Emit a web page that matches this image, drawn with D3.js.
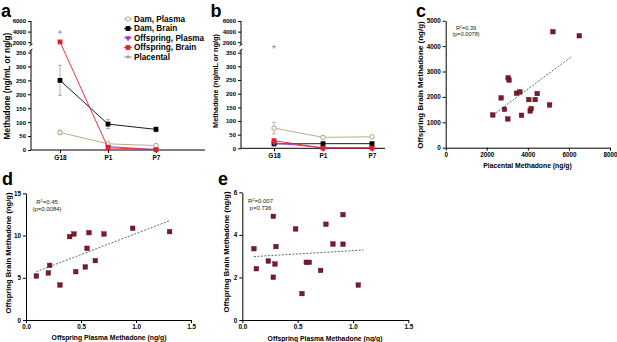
<!DOCTYPE html>
<html>
<head>
<meta charset="utf-8">
<script src="https://d3js.org/d3.v7.min.js"></script>
<style>
body {margin: 0; background: #fff;}
svg text {font-family: "Liberation Sans", Arial, sans-serif;}
</style>
</head>
<body>
<svg id="fig" width="617" height="342"></svg>
<script>
// panels a and b: timepoints and series
var timepoints = ["G18", "P1", "P7"];
var seriesNames = ["Dam, Plasma", "Dam, Brain", "Offspring, Plasma", "Offspring, Brain", "Placental"];
var lowTicks = [0, 50, 100, 150, 200, 250, 300, 350];
var highTicks = [2000, 4000, 6000];

var damPlasmaA = [63, 22, 16];
var damPlasmaErrA = [8, 6, 4];
var damBrainA = [250, 93, 74];
var damBrainErrA = [54, 16, 9];
var offPlasmaA = [null, 12, 2];
var offBrainA = [2050, 8, 1];
var placentalA = [3900, null, null];

var damPlasmaB = [74, 40, 42];
var damPlasmaErrB = [21, 3, 3];
var damBrainB = [16, 17, 17];
var damBrainErrB = [3, 2, 2];
var offPlasmaB = [20, 2, 2];
var offBrainB = [28, 1, 1];
var placentalB = [1150, null, null];

// panel c
var placentalC = [2293, 2699, 2862, 3041, 3089, 3024, 3447, 3610, 3691, 4049, 4114, 4163, 4358, 4455, 5057, 5220, 6504];
var brainC = [1289, 1961, 1513, 2750, 2658, 1132, 2145, 2197, 1276, 1895, 1447, 1539, 1895, 2132, 1684, 4566, 4408];
var fitCx = [2300, 6150];
var fitCy = [1290, 3600];

// panel d
var plasmaD = [0.094, 0.203, 0.215, 0.309, 0.397, 0.436, 0.452, 0.539, 0.555, 0.573, 0.630, 0.709, 0.970, 1.306];
var brainD = [5.21, 5.57, 6.47, 4.14, 9.87, 10.18, 5.72, 6.28, 8.49, 10.34, 7.03, 10.18, 10.86, 10.46];
var fitDx = [0.094, 1.306];
var fitDy = [5.72, 11.76];

// panel e
var plasmaE = [0.105, 0.127, 0.280, 0.304, 0.235, 0.295, 0.280, 0.482, 0.539, 0.578, 0.605, 0.708, 0.756, 0.819, 0.910, 0.910, 1.048];
var brainE = [3.35, 2.41, 4.87, 3.45, 2.77, 2.63, 2.01, 4.28, 1.24, 2.71, 2.71, 2.33, 4.50, 3.57, 4.95, 3.56, 1.64];
var fitEx = [0.105, 1.095];
var fitEy = [2.98, 3.29];

var svg = d3.select("#fig");
var tan = "#b9a27c", purple = "#9b37c6", red = "#ec1c24", grey = "#8c8c8c", maroon = "#7b1a2b";
var styles = [
	{color: tan, shape: "circle", fill: "#fff"},
	{color: "#000", shape: "square", fill: "#000"},
	{color: purple, shape: "triangle", fill: purple},
	{color: red, shape: "square", fill: red},
	{color: grey, shape: "plus", fill: grey}
];

function marker(g, st, cx, cy) {
	if (st.shape == "circle") {
		g.append("circle").attr("cx", cx).attr("cy", cy).attr("r", 2.2)
			.attr("fill", st.fill).attr("stroke", st.color).attr("stroke-width", 1);
	} else if (st.shape == "square") {
		g.append("rect").attr("x", cx - 2.4).attr("y", cy - 2.4).attr("width", 4.8).attr("height", 4.8)
			.attr("fill", st.fill);
	} else if (st.shape == "triangle") {
		g.append("path").attr("d", d3.symbol(d3.symbolTriangle, 16)())
			.attr("transform", "translate(" + cx + "," + cy + ") rotate(180)")
			.attr("fill", st.fill);
	} else {
		g.append("path").attr("d", "M" + (cx - 2) + "," + cy + "h4M" + cx + "," + (cy - 2) + "v4")
			.attr("stroke", st.color).attr("stroke-width", 0.9);
	}
}

function styleAxis(g, size) {
	g.attr("font-size", null).attr("font-family", null);
	g.selectAll("text").attr("font-size", size).attr("font-weight", "bold").attr("fill", "#000");
	g.selectAll("line").attr("stroke", "#000");
}

function panelLetter(txt, x, y) {
	svg.append("text").attr("x", x).attr("y", y).text(txt)
		.attr("font-size", 18).attr("font-weight", "bold");
}

function timePanel(cfg) {
	var g = svg.append("g");
	var x = d3.scalePoint().domain(timepoints).range(cfg.xr);
	var yLow = d3.scaleLinear().domain([0, 350]).range([cfg.y0, cfg.y350]);
	var yHigh = d3.scaleLinear().domain([1000, 6000]).range([cfg.y1000, cfg.y6000]);
	var y = function(v) { return v > 350 ? yHigh(v) : yLow(v); };

	// x axis
	var gx = g.append("g").attr("transform", "translate(0," + cfg.y0 + ")")
		.call(d3.axisBottom(x).tickSize(3).tickPadding(2));
	gx.select(".domain").remove();
	styleAxis(gx, 6.5);
	g.append("line").attr("x1", cfg.axisX).attr("x2", cfg.xEnd)
		.attr("y1", cfg.y0).attr("y2", cfg.y0).attr("stroke", "#000");

	// broken y axis
	var gl = g.append("g").attr("transform", "translate(" + cfg.axisX + ",0)")
		.call(d3.axisLeft(yLow).tickValues(lowTicks).tickFormat(d3.format("d")).tickSize(3).tickPadding(2));
	var gh = g.append("g").attr("transform", "translate(" + cfg.axisX + ",0)")
		.call(d3.axisLeft(yHigh).tickValues(highTicks).tickFormat(d3.format("d")).tickSize(3).tickPadding(2));
	gl.select(".domain").remove();
	gh.select(".domain").remove();
	styleAxis(gl, 6);
	styleAxis(gh, 6);
	g.append("line").attr("x1", cfg.axisX).attr("x2", cfg.axisX)
		.attr("y1", yHigh(6000)).attr("y2", cfg.breakTop).attr("stroke", "#000");
	g.append("line").attr("x1", cfg.axisX).attr("x2", cfg.axisX)
		.attr("y1", cfg.breakBot).attr("y2", cfg.y0).attr("stroke", "#000");
	[cfg.breakTop, cfg.breakBot].forEach(function(by) {
		g.append("line").attr("x1", cfg.axisX - 1.5).attr("x2", cfg.axisX + 1.5)
			.attr("y1", by + 1).attr("y2", by - 1).attr("stroke", "#000").attr("stroke-width", 0.9);
	});

	g.append("text").attr("transform", "translate(" + cfg.titleX + "," + cfg.titleY + ") rotate(-90)")
		.attr("text-anchor", "middle").attr("font-size", cfg.titleSize).attr("font-weight", "bold")
		.text("Methadone (ng/mL or ng/g)");

	var line = d3.line()
		.defined(function(d) { return d.v != null; })
		.x(function(d) { return x(d.t); })
		.y(function(d) { return y(d.v); });

	var order = [4, 0, 1, 2, 3];
	order.forEach(function(i) {
		var vals = cfg.series[i], st = styles[i], err = cfg.errs[i];
		var pts = timepoints.map(function(t, k) { return {t: t, v: vals[k]}; });
		if (err) {
			pts.forEach(function(d, k) {
				if (d.v == null) return;
				var px = x(d.t);
				g.append("path")
					.attr("d", "M" + (px - 2) + "," + y(d.v + err[k]) + "h4M" + px + "," + y(d.v + err[k]) +
						"V" + y(Math.max(0, d.v - err[k])) + "M" + (px - 2) + "," + y(Math.max(0, d.v - err[k])) + "h4")
					.attr("stroke", i == 1 ? "#999" : st.color).attr("stroke-width", 0.8).attr("fill", "none");
			});
		}
		g.append("path").datum(pts).attr("d", line)
			.attr("fill", "none").attr("stroke", st.color).attr("stroke-width", 0.9);
		pts.forEach(function(d) {
			if (d.v != null) marker(g, st, x(d.t), y(d.v));
		});
	});
}

timePanel({
	xr: [60, 156], axisX: 31, xEnd: 205, y0: 150, y350: 52.5, y1000: 47.5, y6000: 21,
	breakTop: 45, breakBot: 50, titleX: 10, titleY: 86, titleSize: 8.3,
	series: [damPlasmaA, damBrainA, offPlasmaA, offBrainA, placentalA],
	errs: [damPlasmaErrA, damBrainErrA, null, null, null]
});

timePanel({
	xr: [274, 372], axisX: 241, xEnd: 385, y0: 148.3, y350: 52.7, y1000: 47.5, y6000: 21,
	breakTop: 45, breakBot: 50, titleX: 218, titleY: 81, titleSize: 7.3,
	series: [damPlasmaB, damBrainB, offPlasmaB, offBrainB, placentalB],
	errs: [damPlasmaErrB, damBrainErrB, null, null, null]
});

// legend for panel a
var leg = svg.append("g");
seriesNames.forEach(function(name, i) {
	var ly = 19 + i * 9.5;
	leg.append("line").attr("x1", 124).attr("x2", 132).attr("y1", ly).attr("y2", ly)
		.attr("stroke", styles[i].color).attr("stroke-width", 0.9);
	marker(leg, styles[i], 128, ly);
	leg.append("text").attr("x", 134).attr("y", ly).attr("dy", "0.35em")
		.attr("font-size", 8.2).attr("font-weight", "bold").text(name);
});

function scatterPanel(cfg) {
	var g = svg.append("g");
	var x = d3.scaleLinear().domain(cfg.xd).range(cfg.xr);
	var y = d3.scaleLinear().domain(cfg.yd).range(cfg.yr);
	var gx = g.append("g").attr("transform", "translate(0," + cfg.yr[0] + ")")
		.call(d3.axisBottom(x).tickValues(cfg.xt).tickFormat(cfg.xf).tickSize(3).tickSizeOuter(0).tickPadding(2));
	var gy = g.append("g").attr("transform", "translate(" + cfg.xr[0] + ",0)")
		.call(d3.axisLeft(y).tickValues(cfg.yt).tickFormat(d3.format("d")).tickSize(3).tickSizeOuter(0).tickPadding(2));
	styleAxis(gx, 6.3);
	styleAxis(gy, 6.3);
	gx.select(".domain").attr("stroke", "#000");
	gy.select(".domain").attr("stroke", "#000");

	g.append("text").attr("x", cfg.xTitle[0]).attr("y", cfg.xTitle[1]).attr("text-anchor", "middle")
		.attr("font-size", 6.8).attr("font-weight", "bold").text(cfg.xLabel);
	g.append("text").attr("transform", "translate(" + cfg.yTitle[0] + "," + cfg.yTitle[1] + ") rotate(-90)")
		.attr("text-anchor", "middle").attr("font-size", cfg.ySize).attr("font-weight", "bold")
		.text("Offspring Brain Methadone (ng/g)");

	g.append("line")
		.attr("x1", x(cfg.fx[0])).attr("y1", y(cfg.fy[0]))
		.attr("x2", x(cfg.fx[1])).attr("y2", y(cfg.fy[1]))
		.attr("stroke", "#4b5a5c").attr("stroke-width", 0.9).attr("stroke-dasharray", "2,1.5");

	g.selectAll("rect.pt").data(cfg.xs).enter().append("rect")
		.attr("class", "pt")
		.attr("x", function(d) { return x(d) - 2.3; })
		.attr("y", function(d, i) { return y(cfg.ys[i]) - 2.3; })
		.attr("width", 4.6).attr("height", 4.6)
		.attr("fill", maroon).attr("stroke", "#4a0e18").attr("stroke-width", 0.4);

	var t1 = g.append("text").attr("x", cfg.stat[0]).attr("y", cfg.stat[1]).attr("text-anchor", "middle")
		.attr("font-size", cfg.statSize).attr("fill", "#222");
	t1.append("tspan").text("R");
	t1.append("tspan").attr("font-size", cfg.statSize * 0.65).attr("dy", -2).text("2");
	t1.append("tspan").attr("dy", 2).text("=" + cfg.r2);
	g.append("text").attr("x", cfg.stat[0]).attr("y", cfg.stat[1] + cfg.statGap).attr("text-anchor", "middle")
		.attr("font-size", cfg.statSize).attr("fill", "#222").text(cfg.p);
}

scatterPanel({
	xd: [0, 8000], xr: [445.7, 610], yd: [0, 5000], yr: [147.7, 20.7],
	xt: [0, 2000, 4000, 6000, 8000], yt: [0, 1000, 2000, 3000, 4000, 5000], xf: d3.format("d"),
	xs: placentalC, ys: brainC, fx: fitCx, fy: fitCy,
	xLabel: "Placental Methadone (ng/g)", xTitle: [527.5, 167.5], yTitle: [422.5, 85], ySize: 8,
	stat: [466, 30.2], statGap: 6.2, statSize: 5.6, r2: "0.39", p: "(p=0.0078)"
});

scatterPanel({
	xd: [0, 1.5], xr: [26, 191], yd: [0, 15], yr: [320, 193.3],
	xt: [0, 0.5, 1, 1.5], yt: [0, 5, 10, 15], xf: d3.format(".1f"),
	xs: plasmaD, ys: brainD, fx: fitDx, fy: fitDy,
	xLabel: "Offspring Plasma Methadone (ng/g)", xTitle: [109, 339.5], yTitle: [11, 253], ySize: 7.6,
	stat: [47, 203.8], statGap: 7.6, statSize: 6, r2: "0.45", p: "(p=0.0084)"
});

scatterPanel({
	xd: [0, 1.5], xr: [242.3, 408.3], yd: [0, 6], yr: [320, 192.3],
	xt: [0, 0.5, 1, 1.5], yt: [0, 2, 4, 6], xf: d3.format(".1f"),
	xs: plasmaE, ys: brainE, fx: fitEx, fy: fitEy,
	xLabel: "Offspring Plasma Methadone (ng/g)", xTitle: [325, 340.5], yTitle: [229, 252], ySize: 7.6,
	stat: [260.5, 202.8], statGap: 7.6, statSize: 6, r2: "0.007", p: "p=0.736"
});

panelLetter("a", 1, 16.5);
panelLetter("b", 210.5, 16.5);
panelLetter("c", 416, 16.5);
panelLetter("d", 2, 185);
panelLetter("e", 218, 185);
</script>
</body>
</html>
